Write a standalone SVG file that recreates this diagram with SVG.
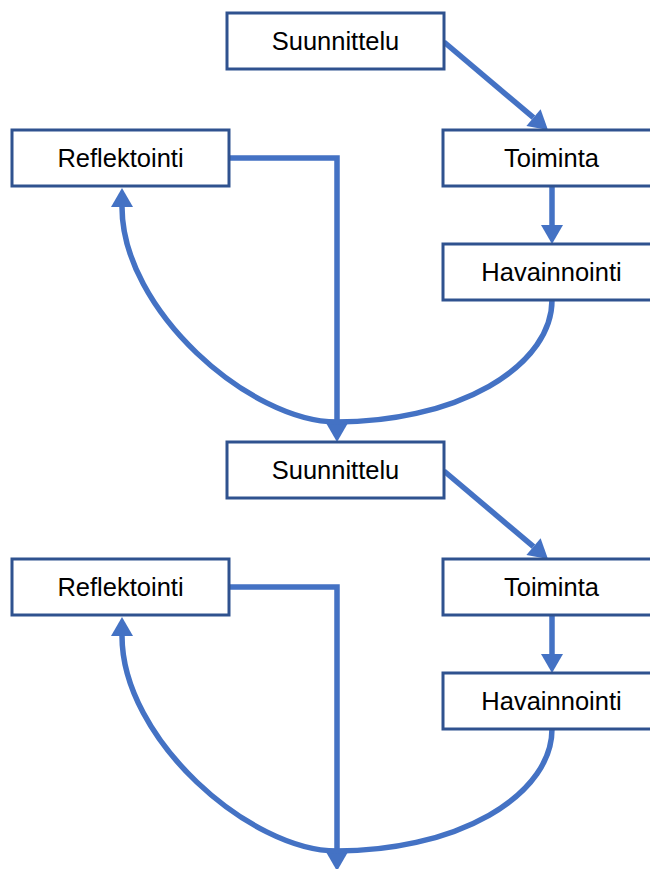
<svg xmlns="http://www.w3.org/2000/svg" width="650" height="869" viewBox="0 0 650 869">
<style>
.box{fill:#ffffff;stroke:#2F528F;stroke-width:3}
.lbl{font-family:"Liberation Sans",Arial,sans-serif;font-size:25.5px;fill:#000000;text-anchor:middle}
.con{fill:none;stroke:#4472C4;stroke-width:5.5}
</style>
<defs>
<marker id="ah" markerUnits="userSpaceOnUse" markerWidth="20" markerHeight="22" refX="0" refY="11" orient="auto" overflow="visible">
<path d="M0,0 L19,11 L0,22 z" fill="#4472C4"/>
</marker>
</defs>
<rect width="650" height="869" fill="#ffffff"/>
<g id="connectors">
<path class="con" d="M444,42 L533.5,117.7" marker-end="url(#ah)"/>
<path class="con" d="M552,186 V225" marker-end="url(#ah)"/>
<path class="con" d="M229,158 H337 V423" marker-end="url(#ah)"/>
<path class="con" d="M552,300 A215,122 0 0 1 337,422 C250,422 122,310 122,207" marker-end="url(#ah)"/>
<path class="con" d="M444,471 L533.5,546.7" marker-end="url(#ah)"/>
<path class="con" d="M552,615 V654" marker-end="url(#ah)"/>
<path class="con" d="M229,587 H337 V852" marker-end="url(#ah)"/>
<path class="con" d="M552,729 A215,122 0 0 1 337,851 C250,851 122,739 122,636" marker-end="url(#ah)"/>
</g>
<g id="suunnittelu1"><rect class="box" x="227" y="13" width="217" height="56"/><text class="lbl" x="335.5" y="50">Suunnittelu</text></g>
<g id="reflektointi1"><rect class="box" x="12" y="130" width="217" height="56"/><text class="lbl" x="120.5" y="167">Reflektointi</text></g>
<g id="toiminta1"><rect class="box" x="443" y="130" width="217" height="56"/><text class="lbl" x="551.5" y="167">Toiminta</text></g>
<g id="havainnointi1"><rect class="box" x="443" y="244" width="217" height="56"/><text class="lbl" x="551.5" y="281">Havainnointi</text></g>
<g id="suunnittelu2"><rect class="box" x="227" y="442" width="217" height="56"/><text class="lbl" x="335.5" y="479">Suunnittelu</text></g>
<g id="reflektointi2"><rect class="box" x="12" y="559" width="217" height="56"/><text class="lbl" x="120.5" y="596">Reflektointi</text></g>
<g id="toiminta2"><rect class="box" x="443" y="559" width="217" height="56"/><text class="lbl" x="551.5" y="596">Toiminta</text></g>
<g id="havainnointi2"><rect class="box" x="443" y="673" width="217" height="56"/><text class="lbl" x="551.5" y="710">Havainnointi</text></g>
</svg>
